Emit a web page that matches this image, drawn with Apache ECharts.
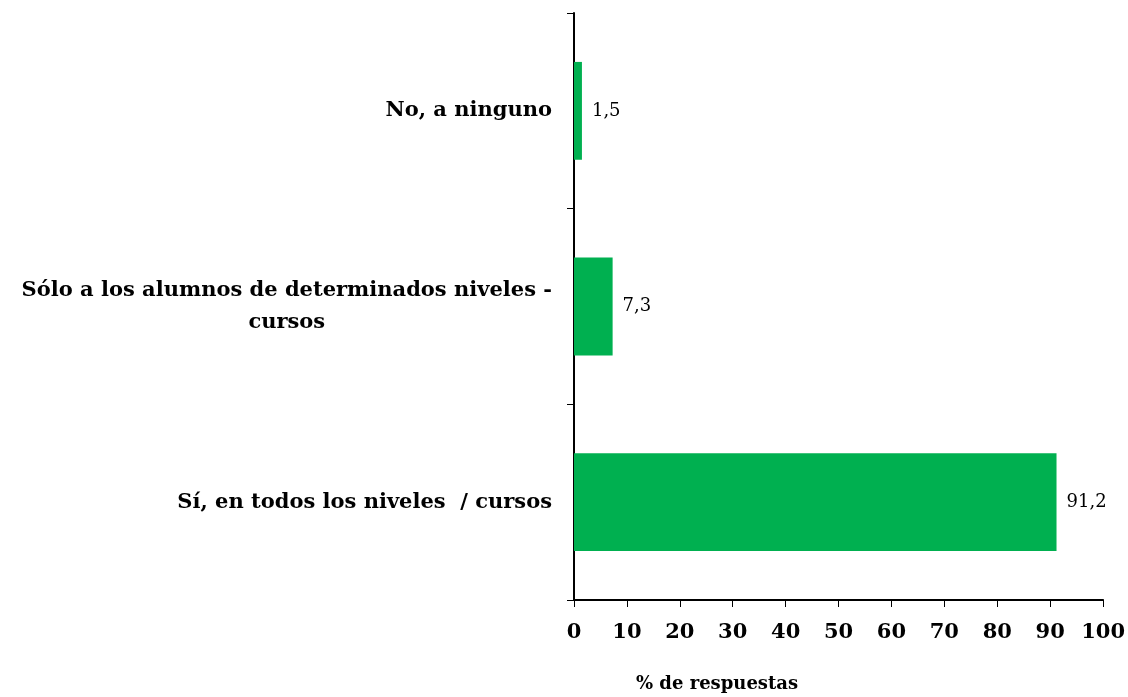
<!DOCTYPE html>
<html>
<head>
<meta charset="utf-8">
<script src="https://cdn.jsdelivr.net/npm/echarts@6/dist/echarts.min.js"></script>
<style>
  html, body { margin: 0; padding: 0; background: #fff; }
  #chart { width: 1128px; height: 697px; }
</style>
</head>
<body>
<div id="chart"></div>
<script>
// Categories listed top to bottom
const categories = [
  'No, a ninguno',
  'Sólo a los alumnos de determinados niveles -\ncursos',
  'Sí, en todos los niveles  / cursos'
];
const values = [1.5, 7.3, 91.2];
const xTicks = [0, 10, 20, 30, 40, 50, 60, 70, 80, 90, 100];
const axisTitle = '% de respuestas';

const FONT = '"DejaVu Serif", serif';
const chart = echarts.init(document.getElementById('chart'), null, { renderer: 'canvas' });

chart.setOption({
  animation: false,
  backgroundColor: '#fff',
  grid: { left: 574, right: 24, top: 13, bottom: 97, containLabel: false },
  xAxis: {
    type: 'value',
    min: xTicks[0],
    max: xTicks[xTicks.length - 1],
    interval: 10,
    splitLine: { show: false },
    axisLine: { show: true, lineStyle: { color: '#000', width: 2 } },
    axisTick: { show: true, length: 7, lineStyle: { color: '#000', width: 1 } },
    axisLabel: {
      margin: 22,
      color: '#000',
      fontFamily: FONT,
      fontWeight: 'bold',
      fontSize: 21
    }
  },
  yAxis: {
    type: 'category',
    inverse: true,
    data: categories,
    axisLine: { show: true, lineStyle: { color: '#000', width: 2 } },
    axisTick: { show: true, length: 7, alignWithLabel: false, lineStyle: { color: '#000', width: 1 } },
    axisLabel: {
      margin: 22,
      color: '#000',
      fontFamily: FONT,
      fontWeight: 'bold',
      fontSize: 21,
      lineHeight: 32,
      formatter: function (v) {
        return v.split('\n').map(function (s) { return '{c|' + s + '}'; }).join('\n');
      },
      rich: {
        c: {
          align: 'center',
          color: '#000',
          fontFamily: FONT,
          fontWeight: 'bold',
          fontSize: 21,
          lineHeight: 32
        }
      }
    }
  },
  series: [{
    type: 'bar',
    data: values,
    barWidth: '50%',
    itemStyle: { color: '#00B050' },
    label: {
      show: true,
      position: 'right',
      distance: 10,
      color: '#000',
      fontFamily: FONT,
      fontSize: 18,
      formatter: function (p) { return p.value.toFixed(1).replace('.', ','); }
    }
  }],
  graphic: [{
    type: 'text',
    left: 636,
    top: 675,
    style: {
      text: axisTitle,
      fill: '#000',
      font: 'bold 18px ' + FONT
    }
  }]
});
</script>
</body>
</html>
